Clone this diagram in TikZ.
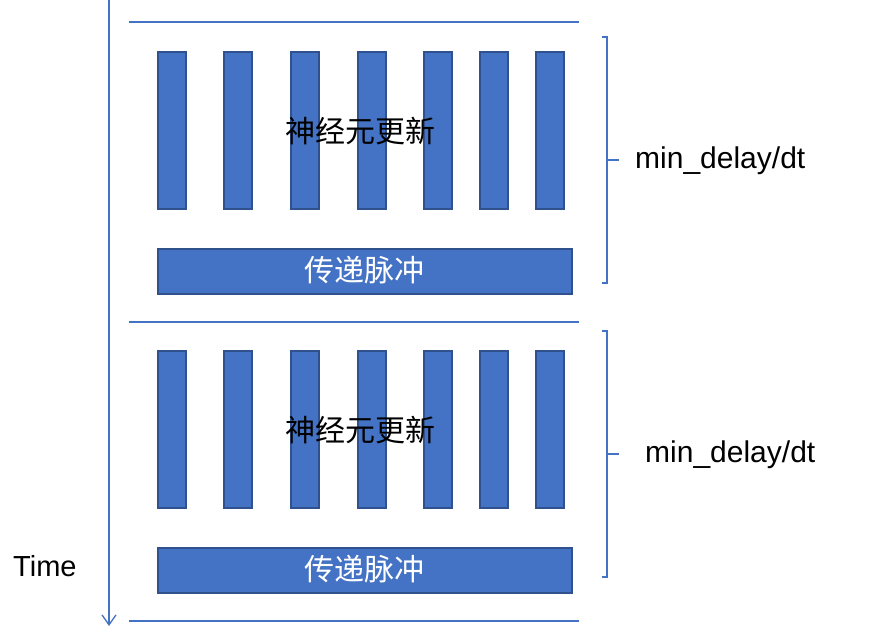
\documentclass[tikz,border=0pt]{standalone}
\usepackage{fontspec}
\setmainfont{Liberation Sans}
\newfontfamily\cjk{Noto Sans CJK SC}
\usetikzlibrary{arrows.meta}
\definecolor{accent}{HTML}{4472C4}
\definecolor{accentdark}{HTML}{2F528F}
\begin{document}
\begin{tikzpicture}[x=1pt,y=-1pt,
  barbox/.style={fill=accent,draw=accentdark,line width=1.5pt},
  sepline/.style={draw=accent,line width=1.6pt},
  bracket/.style={draw=accent,line width=1.3pt},
  lbl/.style={font=\fontsize{30}{33}\selectfont,inner sep=0pt,anchor=west},
  cjklbl/.style={font=\cjk\fontsize{30}{33}\selectfont,inner sep=0pt}]
\useasboundingbox (0,0) rectangle (884,627);
% time axis
\coordinate (tstart) at (109,0);
\coordinate (tend) at (109,626);
\draw[accent,line width=1.3pt,-{Straight Barb[length=10pt,width=14pt,line width=1.3pt]}] (tstart) -- (tend);
\node[lbl,font=\fontsize{29}{32}\selectfont] (time) at (13,566) {Time};
% separators
\coordinate (s1a) at (129,22); \coordinate (s1b) at (579,22);
\coordinate (s2a) at (129,322); \coordinate (s2b) at (579,322);
\coordinate (s3a) at (129,621); \coordinate (s3b) at (579,621);
\draw[sepline] (s1a) -- (s1b);
\draw[sepline] (s2a) -- (s2b);
\draw[sepline] (s3a) -- (s3b);
% blocks
\foreach \dy/\k in {0/a,299/b}{
  \foreach \x [count=\i] in {157,223,290,357,423,479,535}{
    \node[barbox,minimum width=28pt,minimum height=157pt,inner sep=0pt,anchor=north west] (bar\k\i) at (\x,51+\dy) {};
  }
  \node[barbox,minimum width=414pt,minimum height=45pt,inner sep=0pt,anchor=north west] (pulse\k) at (157,248+\dy) {};
  \node[cjklbl,text=white] (pulselbl\k) at (364,270+\dy) {传递脉冲};
  \node[cjklbl,text=black] (updlbl\k) at (360,131+\dy) {神经元更新};
}
% brackets
\coordinate (b1t) at (602,37); \coordinate (b1b) at (602,283);
\coordinate (b1m) at (607,160); \coordinate (b1mt) at (619,160);
\draw[bracket] (b1t) -- (607,37) -- (607,283) -- (b1b);
\draw[bracket] (b1m) -- (b1mt);
\node[lbl] (d1) at (635,161) {min\_delay/dt};
\coordinate (b2t) at (602,331); \coordinate (b2b) at (602,577);
\coordinate (b2m) at (607,454); \coordinate (b2mt) at (619,454);
\draw[bracket] (b2t) -- (607,331) -- (607,577) -- (b2b);
\draw[bracket] (b2m) -- (b2mt);
\node[lbl] (d2) at (645,455) {min\_delay/dt};
\end{tikzpicture}
\end{document}
